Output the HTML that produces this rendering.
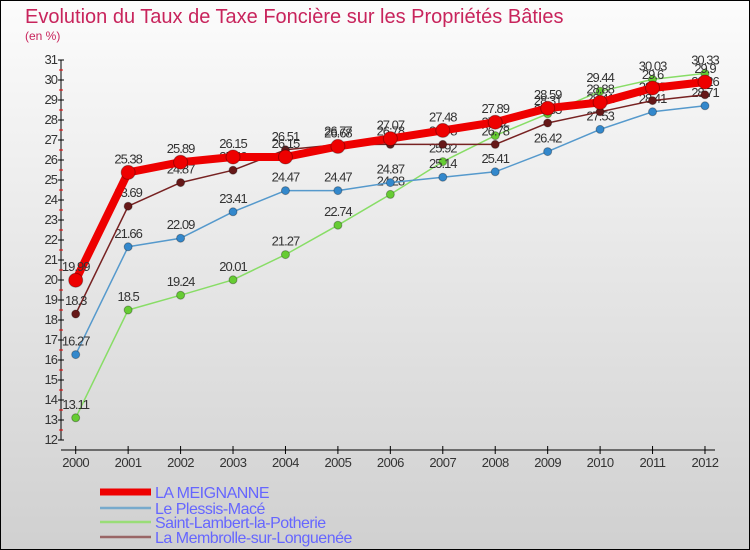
<!DOCTYPE html>
<html><head><meta charset="utf-8"><style>
body{margin:0;}
#c{width:750px;height:550px;position:relative;overflow:hidden;}
text{font-family:"Liberation Sans",sans-serif;}
</style></head><body>
<div id="c">
<svg id="svg" width="750" height="550" xmlns="http://www.w3.org/2000/svg">
<defs><linearGradient id="bg" x1="0" y1="0" x2="0" y2="1"><stop offset="0" stop-color="#fcfcfc"/><stop offset="1" stop-color="#d0d0d0"/></linearGradient></defs>
<rect x="0.5" y="0.5" width="749" height="549" fill="url(#bg)" stroke="#000"/>
<text x="25" y="23" font-size="20" fill="#c8245c">Evolution du Taux de Taxe Foncière sur les Propriétés Bâties</text>
<text x="25" y="40" font-size="12" fill="#c8245c">(en %)</text>
<g id="axes"></g><g id="series"></g><g id="legend"></g>
</svg></div>
<script>
const years=["2000","2001","2002","2003","2004","2005","2006","2007","2008","2009","2010","2011","2012"];
const yTicks=[12,13,14,15,16,17,18,19,20,21,22,23,24,25,26,27,28,29,30,31];
const names=["LA MEIGNANNE","Le Plessis-Macé","Saint-Lambert-la-Potherie","La Membrolle-sur-Longuenée"];
const meignanne=[19.99,25.38,25.89,26.15,26.15,26.68,27.07,27.48,27.89,28.59,28.88,29.6,29.9];
const plessis=[16.27,21.66,22.09,23.41,24.47,24.47,24.87,25.14,25.41,26.42,27.53,28.41,28.71];
const lambert=[13.11,18.5,19.24,20.01,21.27,22.74,24.28,25.92,27.22,28.31,29.44,30.03,30.33];
const membrolle=[18.3,23.69,24.87,25.49,26.51,26.77,26.78,26.78,26.78,27.85,28.41,28.97,29.26];
const NS="http://www.w3.org/2000/svg";
function xs(i){return 75.7+i*52.44;}
function ys(v){return 60+(31-v)*20;}
function mk(tag,attrs,parent){const e=document.createElementNS(NS,tag);for(const k in attrs)e.setAttribute(k,attrs[k]);parent.appendChild(e);return e;}
const ax=document.getElementById('axes');
let l=mk('line',{x1:61,y1:ys(31),x2:61,y2:ys(12),stroke:'#000'},ax);


l=mk('line',{x1:61,y1:450,x2:715,y2:450,stroke:'#000'},ax);


yTicks.forEach(v=>{
 mk('line',{x1:58,x2:64,y1:ys(v),y2:ys(v),stroke:'#000'},ax);
 if(v<31) mk('line',{x1:59,x2:63,y1:ys(v)-10,y2:ys(v)-10,stroke:'#e00'},ax);
 const t=mk('text',{x:57,y:ys(v)+4,'text-anchor':'end','font-size':13,fill:'#333','letter-spacing':'-1'},ax);
 t.textContent=v;
 
 
});
years.forEach((y,i)=>{
 mk('line',{x1:xs(i),x2:xs(i),y1:446,y2:454,stroke:'#000'},ax);
 const t=mk('text',{x:xs(i),y:467,'text-anchor':'middle','font-size':13,fill:'#333','letter-spacing':'-0.5'},ax);
 t.textContent=y;
 
 
});
const sg=document.getElementById('series');
const series=[
 {d:lambert,c:'#88dd66',f:'#66cc33',w:1.5,r:4,n:'saint-lambert'},
 {d:plessis,c:'#5599cc',f:'#3388cc',w:1.5,r:4,n:'le-plessis-mace'},
 {d:membrolle,c:'#772222',f:'#661818',w:1.5,r:4,n:'la-membrolle'},
 {d:meignanne,c:'#ee0000',f:'#ee0000',w:8,r:7,n:'la-meignanne'}];
series.forEach(s=>{
 const g=mk('g',{},sg);
 
 
 const pts=s.d.map((v,i)=>xs(i)+','+ys(v)).join(' ');
 mk('polyline',{points:pts,fill:'none',stroke:s.c,'stroke-width':s.w,'stroke-linejoin':'round'},g);
 s.d.forEach((v,i)=>{
  const c=mk('circle',{cx:xs(i),cy:ys(v),r:s.r,fill:s.f,stroke:'rgba(0,0,0,0.3)'},g);
  
  
  const t=mk('text',{x:xs(i),y:ys(v)-9,'text-anchor':'middle','font-size':13,fill:'#333','letter-spacing':'-1'},g);
  t.textContent=v;
  
  
 });
});
const lg=document.getElementById('legend');
const lcol=['#ee0000','#77aacc','#99dd77','#996666'];
const lw=[7,2.5,2.5,2.5];
const ly=[492,508,522,537];
names.forEach((n,i)=>{
 const g=mk('g',{},lg);
 
 
 mk('line',{x1:100,x2:151,y1:ly[i],y2:ly[i],stroke:lcol[i],'stroke-width':lw[i]},g);
 const t=mk('text',{x:155,y:ly[i]+6,'font-size':16,fill:'#6666ff','letter-spacing':'-0.5'},g);
 t.textContent=n;
});
</script>
</body></html>
